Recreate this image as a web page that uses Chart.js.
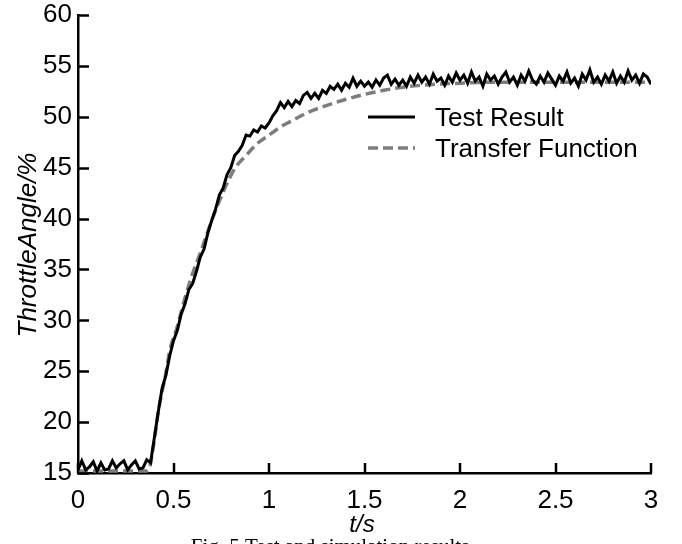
<!DOCTYPE html>
<html>
<head>
<meta charset="utf-8">
<script src="https://cdn.jsdelivr.net/npm/chart.js@4.4.1/dist/chart.umd.min.js"></script>
<style>
  html, body { margin: 0; padding: 0; background: #fff; }
  #wrap { width: 682px; height: 544px; position: relative; }
</style>
</head>
<body>
<div id="wrap"><canvas id="c" width="682" height="544"></canvas></div>
<script>
// ---- data ----
const xTicks = [0, 0.5, 1, 1.5, 2, 2.5, 3];
const yTicks = [15, 20, 25, 30, 35, 40, 45, 50, 55, 60];
const seriesNames = ["Test Result", "Transfer Function"];
const axisTitles = { x: "t/s", y: "ThrottleAngle/%" };
const caption = "Fig. 5 Test and simulation results";

// Test result samples (time in s)
const testTime = [
  0.00,0.02,0.04,0.06,0.08,0.10,0.12,0.14,0.16,0.18,
  0.20,0.22,0.24,0.26,0.28,0.30,0.32,0.34,0.36,0.38,
  0.40,0.42,0.44,0.46,0.48,0.50,0.52,0.54,0.56,0.58,
  0.60,0.62,0.64,0.66,0.68,0.70,0.72,0.74,0.76,0.78,
  0.80,0.82,0.84,0.86,0.88,0.90,0.92,0.94,0.96,0.98,
  1.00,1.02,1.04,1.06,1.08,1.10,1.12,1.14,1.16,1.18,
  1.20,1.22,1.24,1.26,1.28,1.30,1.32,1.34,1.36,1.38,
  1.40,1.42,1.44,1.46,1.48,1.50,1.52,1.54,1.56,1.58,
  1.60,1.62,1.64,1.66,1.68,1.70,1.72,1.74,1.76,1.78,
  1.80,1.82,1.84,1.86,1.88,1.90,1.92,1.94,1.96,1.98,
  2.00,2.02,2.04,2.06,2.08,2.10,2.12,2.14,2.16,2.18,
  2.20,2.22,2.24,2.26,2.28,2.30,2.32,2.34,2.36,2.38,
  2.40,2.42,2.44,2.46,2.48,2.50,2.52,2.54,2.56,2.58,
  2.60,2.62,2.64,2.66,2.68,2.70,2.72,2.74,2.76,2.78,
  2.80,2.82,2.84,2.86,2.88,2.90,2.92,2.94,2.96,2.98,
  3.00
];
const testValues = [
  15.3,16.2,15.3,15.6,16.1,15.2,16.0,15.3,15.4,16.2,
  15.5,15.9,16.2,15.3,15.8,16.2,15.4,15.5,16.3,16.0,
  18.5,21.0,23.3,24.6,26.5,28.0,29.0,30.6,31.6,33.0,
  33.6,34.8,36.2,37.0,38.6,39.8,40.9,42.3,43.0,44.3,
  45.0,46.2,46.6,47.2,48.2,48.1,48.7,48.5,49.1,48.9,
  49.4,50.1,50.6,51.4,50.9,51.5,51.0,51.6,51.3,52.1,
  52.4,51.8,52.3,51.8,52.6,52.3,53.0,52.7,53.2,52.6,
  53.3,52.9,53.8,53.0,53.5,53.0,53.4,52.9,53.6,53.1,
  53.8,54.1,53.2,53.7,53.1,53.6,53.0,53.9,53.3,54.1,
  53.4,53.9,53.2,54.2,53.5,53.8,53.1,54.0,53.4,54.3,
  53.6,54.1,53.3,54.4,53.5,53.9,53.0,54.2,53.6,54.0,
  53.2,53.9,54.4,53.4,53.9,53.1,54.1,53.5,54.5,53.6,
  53.2,54.0,53.4,54.3,53.7,53.1,54.0,53.5,54.4,53.3,
  53.8,53.0,54.2,53.6,54.6,53.4,53.9,53.2,54.1,53.5,
  54.4,53.3,54.0,53.4,54.5,53.6,54.1,53.3,54.2,53.9,
  53.2
];

// Transfer function curve
const tfTime   = [0, 0.36, 0.37, 0.40, 0.42, 0.46, 0.48, 0.52, 0.56, 0.60, 0.64, 0.70, 0.76, 0.82, 0.88, 0.94, 1.00, 1.06, 1.12, 1.20, 1.30, 1.40, 1.50, 1.60, 1.70, 1.80, 2.00, 2.20, 2.50, 3.00];
const tfValues = [15.2, 15.2, 15.3, 18.3, 21.0, 24.8, 27.0, 29.4, 32.2, 34.6, 36.6, 39.8, 42.6, 44.9, 46.2, 47.4, 48.2, 49.0, 49.6, 50.4, 51.1, 51.7, 52.2, 52.6, 52.9, 53.1, 53.3, 53.4, 53.4, 53.4];

// ---- chart ----
const SANS = '"Liberation Sans", Arial, sans-serif';
const SERIF = '"Liberation Serif", "Times New Roman", serif';

const decorPlugin = {
  id: 'decor',
  afterDraw(chart) {
    const ctx = chart.ctx;
    const xs = chart.scales.x, ys = chart.scales.y;
    const area = chart.chartArea;
    ctx.save();
    // inward tick marks
    ctx.strokeStyle = '#000';
    ctx.lineWidth = 2.5;
    ctx.beginPath();
    yTicks.forEach(v => {
      const py = Math.round(ys.getPixelForValue(v)) + 0.5;
      ctx.moveTo(area.left, py);
      ctx.lineTo(area.left + 11, py);
    });
    xTicks.forEach(v => {
      const px = Math.round(xs.getPixelForValue(v));
      ctx.moveTo(px, area.bottom);
      ctx.lineTo(px, area.bottom - 10);
    });
    ctx.stroke();

    // axis titles
    ctx.fillStyle = '#000';
    ctx.font = 'italic 24px ' + SANS;
    ctx.textAlign = 'center';
    ctx.textBaseline = 'alphabetic';
    ctx.fillText(axisTitles.x, 362, 532);

    ctx.save();
    ctx.translate(36, 245);
    ctx.rotate(-Math.PI / 2);
    ctx.font = 'italic 26px ' + SANS;
    ctx.fillText(axisTitles.y, 0, 0);
    ctx.restore();

    // legend
    const ds = chart.data.datasets;
    const legendY = [117, 148];
    ds.forEach((d, i) => {
      ctx.save();
      ctx.strokeStyle = d.borderColor;
      ctx.lineWidth = d.borderWidth;
      ctx.setLineDash(d.borderDash || []);
      ctx.beginPath();
      ctx.moveTo(368, legendY[i]);
      ctx.lineTo(415, legendY[i]);
      ctx.stroke();
      ctx.restore();
      ctx.font = '26px ' + SANS;
      ctx.textAlign = 'left';
      ctx.textBaseline = 'alphabetic';
      ctx.fillStyle = '#000';
      ctx.fillText(d.label, 435, legendY[i] + 9);
    });

    // caption (cut off at the bottom as in the reference)
    ctx.font = '21px ' + SERIF;
    ctx.textAlign = 'center';
    ctx.fillStyle = '#000';
    ctx.fillText(caption, 330, 553);
    ctx.restore();
  }
};

const chart = new Chart(document.getElementById('c'), {
  type: 'line',
  data: {
    datasets: [
      {
        label: seriesNames[0],
        data: testTime.map((t, i) => ({ x: t, y: testValues[i] })),
        borderColor: '#000000',
        borderWidth: 3,
        pointRadius: 0,
        tension: 0,
        fill: false
      },
      {
        label: seriesNames[1],
        data: tfTime.map((t, i) => ({ x: t, y: tfValues[i] })),
        borderColor: '#7d7d7d',
        borderWidth: 3.5,
        borderDash: [10, 5],
        pointRadius: 0,
        cubicInterpolationMode: 'monotone',
        fill: false
      }
    ]
  },
  options: {
    responsive: false,
    animation: false,
    devicePixelRatio: 1,
    layout: { padding: { top: 15, right: 31, left: 0, bottom: 0 } },
    plugins: {
      legend: { display: false },
      tooltip: { enabled: false },
      title: { display: false }
    },
    scales: {
      x: {
        type: 'linear',
        min: 0, max: 3,
        afterBuildTicks: s => { s.ticks = xTicks.map(v => ({ value: v })); },
        afterFit: s => { s.height = 71; s.paddingLeft = 0; s.paddingRight = 0; },
        ticks: { color: '#000', font: { family: SANS, size: 26 }, padding: 12, maxRotation: 0,
                 callback: v => String(v) },
        grid: { display: false, drawTicks: false, tickLength: 0 },
        border: { display: true, color: '#000', width: 2.5 }
      },
      y: {
        type: 'linear',
        min: 15, max: 60,
        afterBuildTicks: s => { s.ticks = yTicks.map(v => ({ value: v })); },
        afterFit: s => { s.width = 78; s.paddingTop = 0; s.paddingBottom = 0; },
        ticks: { color: '#000', font: { family: SANS, size: 26 }, padding: 6,
                 callback: v => String(v) },
        grid: { display: false, drawTicks: false, tickLength: 0 },
        border: { display: true, color: '#000', width: 2.5 }
      }
    }
  },
  plugins: [decorPlugin]
});
</script>
</body>
</html>
